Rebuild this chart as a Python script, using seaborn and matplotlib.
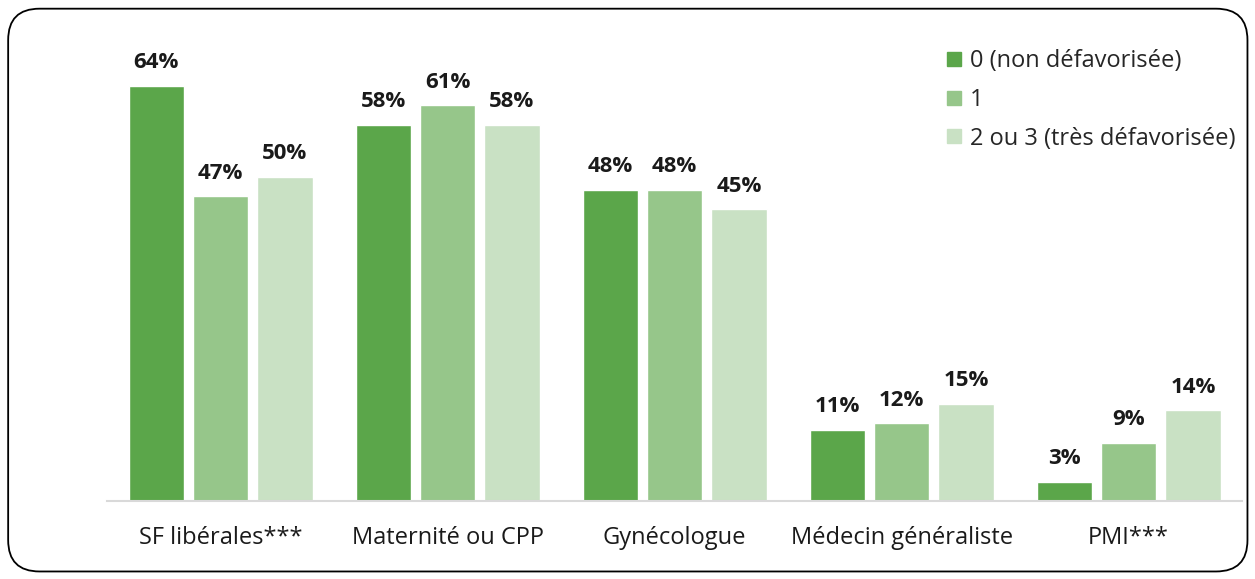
import pandas as pd
import matplotlib.pyplot as plt
import seaborn as sns
from matplotlib.patches import FancyBboxPatch
from matplotlib.lines import Line2D

# Data
categories = ['SF libérales***', 'Maternité ou CPP', 'Gynécologue', 'Médecin généraliste', 'PMI***']
groups = ['0 (non défavorisée)', '1', '2 ou 3 (très défavorisée)']
values_0 = [64, 58, 48, 11, 3]
values_1 = [47, 61, 48, 12, 9]
values_23 = [50, 58, 45, 15, 14]
colors = ['#5BA64A', '#96C68A', '#C9E1C4']

df = pd.DataFrame({
    'categorie': categories * 3,
    'groupe': [groups[0]] * 5 + [groups[1]] * 5 + [groups[2]] * 5,
    'valeur': values_0 + values_1 + values_23,
})

sns.set_style('white')
plt.rcParams['font.family'] = ['Open Sans', 'DejaVu Sans']

fig = plt.figure(figsize=(12.55, 5.79), dpi=100)
ax = fig.add_axes([0.0853, 0.1347, 0.9044, 0.79])

sns.barplot(data=df, x='categorie', y='valeur', hue='groupe', palette=colors,
            width=0.85, gap=0.14, saturation=1, ax=ax, legend=False)

# Value labels
for container in ax.containers:
    ax.bar_label(container, labels=[f'{v:.0f}%' for v in container.datavalues],
                 padding=9, fontsize=16, fontweight='bold', color='#1a1a1a')

ax.set_ylim(0, 70.5)
ax.set_xlim(-0.5, 4.5)
ax.set_xlabel('')
ax.set_ylabel('')
ax.set_yticks([])
ax.tick_params(axis='x', length=0, labelsize=17, pad=18, colors='#1a1a1a')
for s in ['top', 'right', 'left']:
    ax.spines[s].set_visible(False)
ax.spines['bottom'].set_color('#D9D9D9')
ax.spines['bottom'].set_linewidth(1.5)

# Legend with square markers
handles = [Line2D([0], [0], marker='s', linestyle='', markersize=10,
                  markerfacecolor=c, markeredgecolor=c) for c in colors]
ax.legend(handles, groups, loc='upper left', bbox_to_anchor=(0.732, 1.008),
          frameon=False, fontsize=17, handlelength=0.6, handletextpad=0.35,
          labelspacing=0.62, borderaxespad=0)

# Rounded frame around the figure
frame = FancyBboxPatch((0.0065, 0.013), 0.9875, 0.972,
                       boxstyle='round,pad=0,rounding_size=0.025',
                       transform=fig.transFigure, fill=False,
                       edgecolor='black', linewidth=1.3, mutation_aspect=1255 / 579)
fig.patches.append(frame)

plt.savefig('out.png', dpi=100)
